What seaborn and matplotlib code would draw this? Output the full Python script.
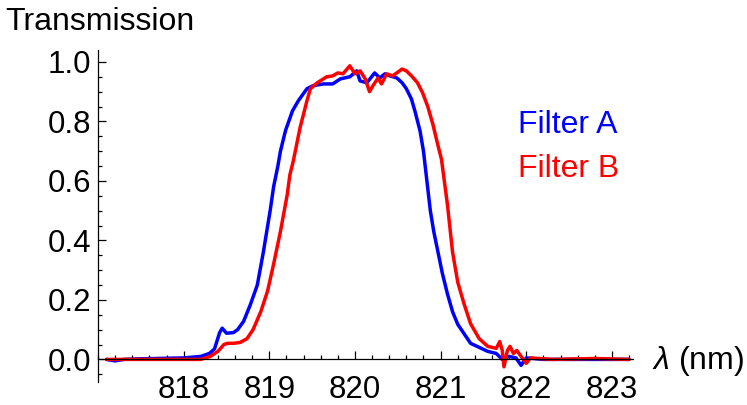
import pandas as pd
import seaborn as sns
import matplotlib.pyplot as plt
from matplotlib.ticker import MultipleLocator

wavelength_a = [817.10, 817.20, 817.30, 817.50, 818.00, 818.20, 818.30, 818.36, 818.42, 818.45,
                818.50, 818.58, 818.63, 818.70, 818.78, 818.86, 818.93, 819.01, 819.05, 819.10,
                819.13, 819.19, 819.27, 819.34, 819.44, 819.51, 819.63, 819.74, 819.83, 819.94,
                820.02, 820.06, 820.14, 820.23, 820.29, 820.35, 820.41, 820.49, 820.55, 820.60,
                820.66, 820.70, 820.76, 820.80, 820.84, 820.88, 820.92, 820.97, 821.02, 821.08,
                821.14, 821.20, 821.35, 821.55, 821.65, 821.72, 821.80, 821.88, 821.94, 822.00,
                822.20, 822.60, 823.20]
transmission_a = [0.000, -0.005, 0.000, 0.002, 0.005, 0.010, 0.020, 0.035, 0.090, 0.105,
                  0.088, 0.090, 0.100, 0.128, 0.185, 0.250, 0.360, 0.500, 0.580, 0.650,
                  0.700, 0.770, 0.835, 0.870, 0.910, 0.920, 0.926, 0.926, 0.943, 0.950,
                  0.970, 0.936, 0.930, 0.963, 0.946, 0.960, 0.953, 0.946, 0.930, 0.910,
                  0.875, 0.835, 0.768, 0.700, 0.600, 0.500, 0.430, 0.360, 0.290, 0.220,
                  0.160, 0.118, 0.054, 0.027, 0.020, 0.000, 0.010, 0.005, -0.020, 0.005,
                  0.000, 0.000, 0.000]

wavelength_b = [817.10, 817.80, 818.20, 818.31, 818.40, 818.47, 818.51, 818.58, 818.66, 818.74,
                818.81, 818.90, 818.98, 819.05, 819.13, 819.21, 819.24, 819.28, 819.36, 819.44,
                819.48, 819.56, 819.67, 819.74, 819.80, 819.86, 819.94, 820.00, 820.06, 820.12,
                820.17, 820.21, 820.27, 820.31, 820.37, 820.44, 820.55, 820.60, 820.66, 820.73,
                820.79, 820.85, 820.91, 820.965, 821.01, 821.08, 821.14, 821.20, 821.27, 821.35,
                821.45, 821.55, 821.65, 821.69, 821.72, 821.74, 821.78, 821.81, 821.85, 821.89,
                821.94, 822.00, 822.05, 822.30, 822.80, 823.20]
transmission_b = [0.000, 0.000, 0.000, 0.010, 0.027, 0.050, 0.054, 0.054, 0.057, 0.070,
                  0.100, 0.160, 0.230, 0.320, 0.430, 0.555, 0.620, 0.667, 0.780, 0.870,
                  0.910, 0.930, 0.950, 0.953, 0.963, 0.960, 0.987, 0.960, 0.970, 0.943,
                  0.900, 0.920, 0.946, 0.926, 0.960, 0.953, 0.976, 0.970, 0.953, 0.930,
                  0.896, 0.850, 0.790, 0.724, 0.673, 0.520, 0.360, 0.260, 0.190, 0.120,
                  0.070, 0.044, 0.037, 0.060, 0.030, -0.025, 0.030, 0.044, 0.020, 0.030,
                  0.010, -0.013, 0.005, 0.000, 0.003, 0.000]

series_names = ["Filter A", "Filter B"]
series_colors = ["#0000ff", "#ff0000"]
x_ticks = [818, 819, 820, 821, 822, 823]
y_ticks = [0.0, 0.2, 0.4, 0.6, 0.8, 1.0]

df = pd.concat([
    pd.DataFrame({"wavelength": wavelength_a, "transmission": transmission_a, "filter": series_names[0]}),
    pd.DataFrame({"wavelength": wavelength_b, "transmission": transmission_b, "filter": series_names[1]}),
])

sns.set_style("ticks")
plt.rcParams['font.family'] = ['Liberation Sans', 'DejaVu Sans']
plt.rcParams['mathtext.fontset'] = 'custom'
plt.rcParams['mathtext.rm'] = 'Liberation Sans'
plt.rcParams['mathtext.it'] = 'Liberation Sans:italic'
plt.rcParams['text.color'] = 'black'
plt.rcParams['xtick.color'] = 'black'
plt.rcParams['ytick.color'] = 'black'

fig = plt.figure(figsize=(7.47, 4.05), dpi=100)
ax = fig.add_axes([0.1312, 0.0575, 0.7166, 0.819])

sns.lineplot(data=df, x="wavelength", y="transmission", hue="filter",
             palette=dict(zip(series_names, series_colors)), sort=False,
             estimator=None, linewidth=2.5, legend=False, ax=ax)

# Mathematica-like axes crossing at y = 0
ax.set_xlim(817.0, 823.25)
ax.set_ylim(-0.075, 1.04)
ax.spines['bottom'].set_position(('data', 0))
ax.spines['top'].set_visible(False)
ax.spines['right'].set_visible(False)
for s in ['left', 'bottom']:
    ax.spines[s].set_linewidth(0.9)
    ax.spines[s].set_color('black')

ax.set_xticks(x_ticks)
ax.set_xticklabels([str(t) for t in x_ticks])
ax.set_yticks(y_ticks)
ax.set_yticklabels([f"{t:.1f}" for t in y_ticks])
ax.xaxis.set_minor_locator(MultipleLocator(0.2))
ax.yaxis.set_minor_locator(MultipleLocator(0.05))
ax.tick_params(which='both', direction='in', width=0.9, color='black',
               labelcolor='black', labelsize=22.5)
ax.tick_params(which='major', length=5.5)
ax.tick_params(which='minor', length=3)
ax.tick_params(axis='y', pad=5)
ax.tick_params(axis='x', pad=11)
ax.set_xlabel("")
ax.set_ylabel("")

fig.text(5 / 747, 1 - 30 / 405, "Transmission", fontsize=23, color='black', va='baseline', ha='left')
fig.text(652 / 747, 1 - 369 / 405, r"$\lambda$ (nm)", fontsize=23, color='black', va='baseline', ha='left')

ax.text(821.906, 0.760, series_names[0], color=series_colors[0], fontsize=23, va='baseline', ha='left')
ax.text(821.906, 0.612, series_names[1], color=series_colors[1], fontsize=23, va='baseline', ha='left')

plt.savefig("out.png", dpi=100)
